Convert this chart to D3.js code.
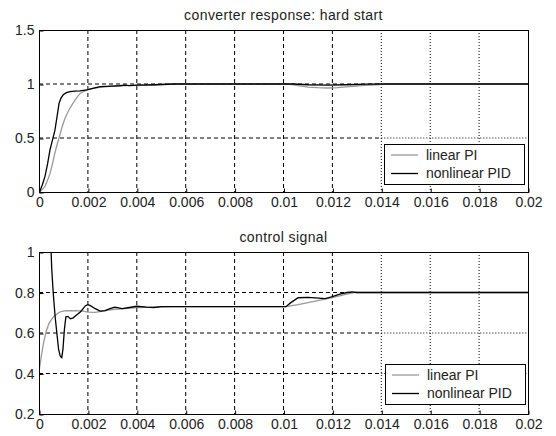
<!DOCTYPE html>
<html>
<head>
<meta charset="utf-8">
<script src="https://cdn.jsdelivr.net/npm/d3@7"></script>
<style>
  body { margin: 0; background: #fff; }
  svg { display: block; font-family: "Liberation Sans", Arial, sans-serif; }
</style>
</head>
<body>
<div id="chart"></div>
<script>
const width = 556;
const height = 436;

// x ticks shared by both plots
const xTicks = [0, 0.002, 0.004, 0.006, 0.008, 0.01, 0.012, 0.014, 0.016, 0.018, 0.02];
const xTickLabels = ["0", "0.002", "0.004", "0.006", "0.008", "0.01", "0.012", "0.014", "0.016", "0.018", "0.02"];
// the scan shows grid lines dotted from here on
const dottedFrom = 0.014;

const legendLabels = ["linear PI", "nonlinear PID"];

// top plot: converter response
const topTitle = "converter response: hard start";
const topYTicks = [0, 0.5, 1, 1.5];
const topYLabels = ["0", "0.5", "1", "1.5"];
const respLinear = [
  [0, 0], [0.00012, 0.02], [0.00024, 0.05], [0.00035, 0.11], [0.00045, 0.17], [0.00055, 0.26],
  [0.00065, 0.36], [0.00074, 0.44], [0.00082, 0.5], [0.00094, 0.6], [0.00106, 0.68],
  [0.0012, 0.75], [0.00133, 0.8], [0.0015, 0.86], [0.00167, 0.91], [0.00182, 0.93],
  [0.00196, 0.945], [0.0022, 0.96], [0.0025, 0.97], [0.003, 0.98], [0.0035, 0.985],
  [0.004, 0.988], [0.0047, 0.99], [0.0055, 1], [0.0102, 1], [0.0106, 0.985],
  [0.011, 0.972], [0.0114, 0.966], [0.0118, 0.963], [0.0122, 0.966], [0.0127, 0.976],
  [0.0132, 0.986], [0.0138, 0.993], [0.0142, 1], [0.02, 1]
];
const respNonlinear = [
  [0, 0], [0.00004, 0.01], [0.00014, 0.07], [0.00024, 0.14], [0.00035, 0.26], [0.00045, 0.39],
  [0.00055, 0.48], [0.00065, 0.57], [0.00074, 0.7], [0.00082, 0.82], [0.0009, 0.87],
  [0.00099, 0.9], [0.00112, 0.92], [0.00127, 0.93], [0.00147, 0.934], [0.00167, 0.936],
  [0.00196, 0.945], [0.0022, 0.96], [0.0025, 0.975], [0.003, 0.98], [0.0033, 0.984],
  [0.0035, 0.99], [0.0037, 0.985], [0.004, 0.99], [0.0047, 0.993], [0.0055, 1],
  [0.0104, 1], [0.011, 0.993], [0.0118, 0.99], [0.0126, 0.993], [0.0134, 0.998],
  [0.014, 1], [0.02, 1]
];

// bottom plot: control signal
const botTitle = "control signal";
const botYTicks = [0.2, 0.4, 0.6, 0.8, 1];
const botYLabels = ["0.2", "0.4", "0.6", "0.8", "1"];
const ctrlLinear = [
  [0, 0.41], [0.00005, 0.45], [0.0001, 0.49], [0.0002, 0.56], [0.0003, 0.61], [0.0004, 0.645],
  [0.0005, 0.665], [0.0006, 0.68], [0.0007, 0.69], [0.0008, 0.7], [0.0009, 0.705],
  [0.0011, 0.71], [0.0015, 0.71], [0.0018, 0.708], [0.002, 0.703], [0.0023, 0.702],
  [0.0026, 0.708], [0.003, 0.716], [0.0035, 0.72], [0.004, 0.725], [0.0047, 0.728],
  [0.0055, 0.73], [0.0101, 0.73], [0.0106, 0.74], [0.011, 0.75], [0.0115, 0.762],
  [0.012, 0.775], [0.0125, 0.79], [0.0129, 0.8], [0.02, 0.8]
];
const ctrlNonlinear = [
  [0.00048, 1.05], [0.00052, 0.92], [0.00058, 0.8], [0.00066, 0.68], [0.00073, 0.6],
  [0.0008, 0.52], [0.00087, 0.485], [0.00093, 0.478], [0.00098, 0.52], [0.00104, 0.62],
  [0.0011, 0.68], [0.00118, 0.682], [0.00128, 0.67], [0.0014, 0.675], [0.0015, 0.685],
  [0.0017, 0.705], [0.0019, 0.735], [0.002, 0.74], [0.0021, 0.735], [0.0023, 0.72],
  [0.0025, 0.708], [0.0027, 0.71], [0.0029, 0.72], [0.0031, 0.728], [0.0034, 0.72],
  [0.0037, 0.726], [0.004, 0.732], [0.0044, 0.728], [0.0047, 0.726], [0.005, 0.73],
  [0.0101, 0.73], [0.0103, 0.75], [0.0106, 0.774], [0.011, 0.776], [0.0113, 0.773],
  [0.0117, 0.77], [0.012, 0.78], [0.0123, 0.792], [0.0126, 0.8], [0.0128, 0.803],
  [0.013, 0.8], [0.02, 0.8]
];

const colors = ["#999", "#000"];
const textColor = "#222";

const svg = d3.select("#chart")
  .append("svg")
  .attr("width", width)
  .attr("height", height);

const x = d3.scaleLinear()
  .domain([0, 0.02])
  .range([39, 528]);

function drawPanel(opts) {
  const y = d3.scaleLinear()
    .domain(opts.yDomain)
    .range([opts.bottom, opts.top]);

  const g = svg.append("g");
  const clipId = "clip" + opts.top;

  g.append("clipPath")
    .attr("id", clipId)
    .append("rect")
    .attr("x", x.range()[0])
    .attr("y", opts.top)
    .attr("width", x.range()[1] - x.range()[0])
    .attr("height", opts.bottom - opts.top);

  // grid, vertical
  g.selectAll(".vgrid")
    .data(xTicks.slice(1, -1))
    .join("line")
    .attr("x1", d => x(d)).attr("x2", d => x(d))
    .attr("y1", opts.top).attr("y2", opts.bottom)
    .attr("stroke", "#000")
    .attr("stroke-width", 1)
    .attr("stroke-dasharray", d => d >= dottedFrom - 1e-9 ? "1,2" : "4,3");

  // grid, horizontal (dashed part then dotted part)
  const hTicks = opts.yTicks.slice(1, -1);
  g.selectAll(".hgridA")
    .data(hTicks)
    .join("line")
    .attr("x1", x(0)).attr("x2", x(dottedFrom))
    .attr("y1", d => y(d)).attr("y2", d => y(d))
    .attr("stroke", "#000")
    .attr("stroke-dasharray", "4,3");
  g.selectAll(".hgridB")
    .data(hTicks)
    .join("line")
    .attr("x1", x(dottedFrom)).attr("x2", x(0.02))
    .attr("y1", d => y(d)).attr("y2", d => y(d))
    .attr("stroke", "#000")
    .attr("stroke-dasharray", "1,2");

  // series
  const line = d3.line().x(d => x(d[0])).y(d => y(d[1]));
  g.selectAll(".series")
    .data(opts.series)
    .join("path")
    .attr("clip-path", `url(#${clipId})`)
    .attr("fill", "none")
    .attr("stroke", (d, i) => colors[i])
    .attr("stroke-width", 1.3)
    .attr("d", line);

  // frame
  g.append("rect")
    .attr("x", x.range()[0] + 0.5)
    .attr("y", opts.top + 0.5)
    .attr("width", x.range()[1] - x.range()[0])
    .attr("height", opts.bottom - opts.top)
    .attr("fill", "none")
    .attr("stroke", "#000");

  // axes
  const xAxis = d3.axisBottom(x)
    .tickValues(xTicks)
    .tickFormat((d, i) => xTickLabels[i])
    .tickSizeInner(-4)
    .tickSizeOuter(0)
    .tickPadding(5);
  const gx = g.append("g")
    .attr("transform", `translate(0.5,${opts.bottom + 0.5})`)
    .call(xAxis);

  const yAxis = d3.axisLeft(y)
    .tickValues(opts.yTicks)
    .tickFormat((d, i) => opts.yLabels[i])
    .tickSizeInner(-4)
    .tickSizeOuter(0)
    .tickPadding(5);
  const gy = g.append("g")
    .attr("transform", `translate(${x.range()[0] + 0.5},0.5)`)
    .call(yAxis);

  [gx, gy].forEach(a => {
    a.select(".domain").remove();
    a.selectAll("text")
      .attr("fill", textColor)
      .style("font-size", "14px")
      .style("font-family", "'Liberation Sans', Arial, sans-serif");
  });

  // title
  g.append("text")
    .attr("x", (x.range()[0] + x.range()[1]) / 2)
    .attr("y", opts.top - 10)
    .attr("text-anchor", "middle")
    .attr("font-size", "14px")
    .attr("letter-spacing", "0.4px")
    .attr("fill", textColor)
    .text(opts.title);

  // legend
  const lg = g.append("g");
  lg.append("rect")
    .attr("x", opts.legend.x + 0.5)
    .attr("y", opts.legend.y + 0.5)
    .attr("width", 140)
    .attr("height", 40)
    .attr("fill", "#fff")
    .attr("stroke", "#000");
  legendLabels.forEach((label, i) => {
    const ly = opts.legend.y + 11 + i * 18.5;
    lg.append("line")
      .attr("x1", opts.legend.x + 7).attr("x2", opts.legend.x + 34)
      .attr("y1", ly).attr("y2", ly)
      .attr("stroke", colors[i])
      .attr("stroke-width", 1.3);
    lg.append("text")
      .attr("x", opts.legend.x + 42)
      .attr("y", ly)
      .attr("dy", "0.35em")
      .attr("font-size", "14px")
      .attr("fill", textColor)
      .text(label);
  });
}

drawPanel({
  top: 30, bottom: 192,
  yDomain: [0, 1.5],
  yTicks: topYTicks, yLabels: topYLabels,
  series: [respLinear, respNonlinear],
  title: topTitle,
  legend: { x: 384, y: 144 }
});

drawPanel({
  top: 252, bottom: 414,
  yDomain: [0.2, 1],
  yTicks: botYTicks, yLabels: botYLabels,
  series: [ctrlLinear, ctrlNonlinear],
  title: botTitle,
  legend: { x: 385, y: 364 }
});
</script>
</body>
</html>
